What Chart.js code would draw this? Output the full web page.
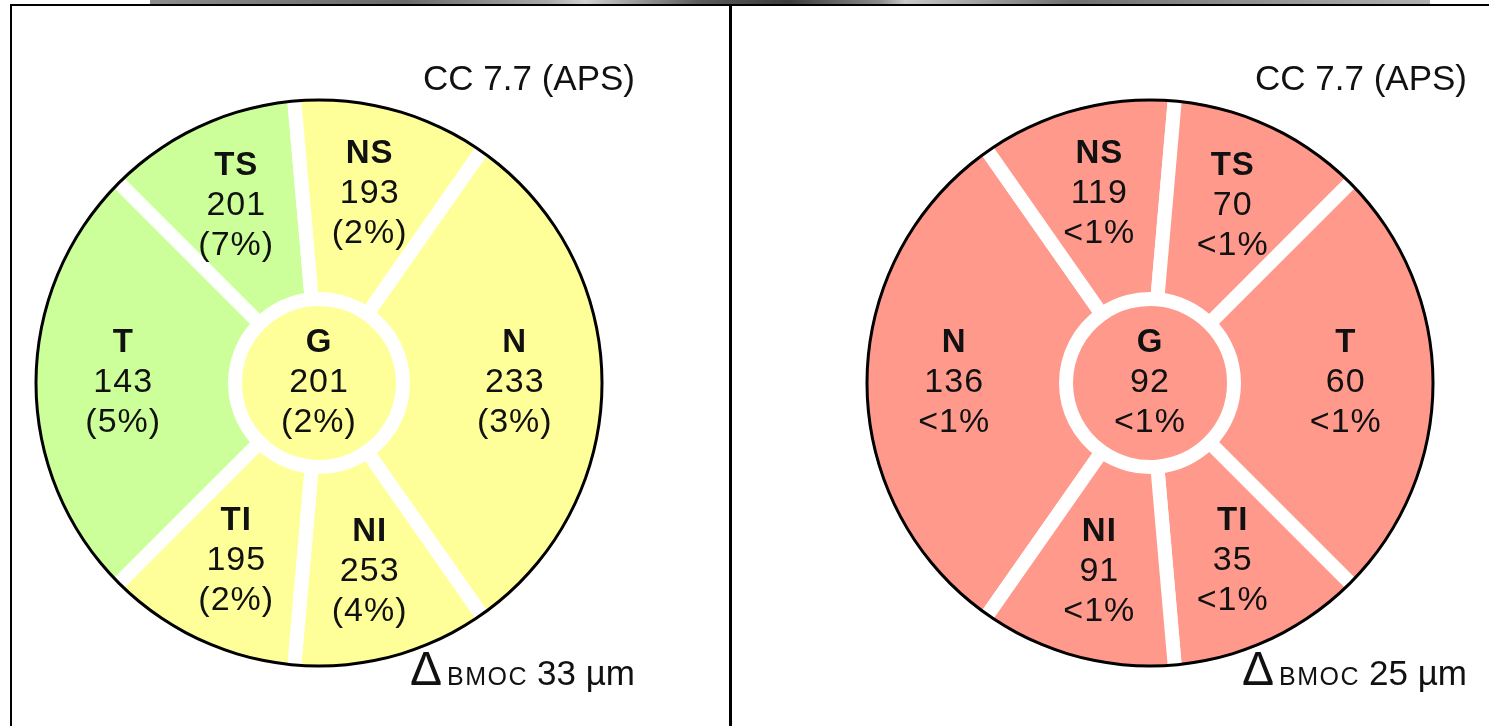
<!DOCTYPE html>
<html>
<head>
<meta charset="utf-8">
<script src="https://cdn.jsdelivr.net/npm/chart.js@4.4.1/dist/chart.umd.min.js"></script>
<style>
html,body{margin:0;padding:0;background:#fff;}
body{width:1489px;height:726px;position:relative;overflow:hidden;font-family:"Liberation Sans",Arial,Helvetica,sans-serif;color:#111;}
.strip{position:absolute;left:150px;top:0;width:1280px;height:4px;
  background:linear-gradient(90deg,#8c8c8c,#6a6a6a 20%,#a8a8a8 31%,#d0d0d0 34%,#5a5a5a 43%,#3c3c3c 50%,#8a8a8a 57%,#c8c8c8 59%,#707070 72%,#9a9a9a 90%,#b0b0b0);}
.frame{position:absolute;left:10px;top:4px;width:1500px;height:760px;border-left:2px solid #000;border-top:2px solid #000;}
.divider{position:absolute;left:729px;top:4px;width:3px;height:730px;background:#000;}
.wrap{position:absolute;width:620px;height:620px;}
.wrap canvas{position:absolute;left:0;top:0;}
.line{position:absolute;display:flex;justify-content:flex-end;align-items:baseline;white-space:nowrap;}
.line span{line-height:1;}
.cc{font-size:35px;}
.tri{font-size:48px;margin-right:5px;font-weight:normal;}
.sc{font-size:25px;letter-spacing:1.5px;}
.um{font-size:35px;margin-left:9px;}
</style>
</head>
<body>
<div class="strip"></div>
<div class="frame"></div>
<div class="divider"></div>

<div class="wrap" style="left:9px;top:73px;">
  <canvas id="odChart" width="620" height="620"></canvas>
  <canvas id="odRing" width="620" height="620"></canvas>
</div>
<div class="wrap" style="left:840px;top:73px;">
  <canvas id="osChart" width="620" height="620"></canvas>
  <canvas id="osRing" width="620" height="620"></canvas>
</div>

<div class="line" style="right:854px;top:60px;"><span class="cc" id="odCC"></span></div>
<div class="line" style="right:22px;top:60px;"><span class="cc" id="osCC"></span></div>
<div class="line" style="right:854px;top:645px;"><span class="tri">Δ</span><span class="sc">BMOC</span><span class="um" id="odBmoc"></span></div>
<div class="line" style="right:22px;top:645px;"><span class="tri">Δ</span><span class="sc">BMOC</span><span class="um" id="osBmoc"></span></div>

<script>
// ===== DATA: left eye =====
const odNames = ["TS", "NS", "N", "NI", "TI", "T"];
const odSpans = [40, 40, 110, 40, 40, 90];          // sector sizes in degrees, clockwise
const odValues = [201, 193, 233, 253, 195, 143];
const odPct = ["(7%)", "(2%)", "(3%)", "(4%)", "(2%)", "(5%)"];
const odColors = ["#ccff99", "#ffff99", "#ffff99", "#ffff99", "#ffff99", "#ccff99"];
const odG = 201;
const odGPct = "(2%)";
const odGColor = "#ffff99";
const odRotation = -45;
const odQuality = "CC 7.7 (APS)";
const odBmoc = "33 µm";

// ===== DATA: right eye =====
const osNames = ["N", "NS", "TS", "T", "TI", "NI"];
const osSpans = [110, 40, 40, 90, 40, 40];
const osValues = [136, 119, 70, 60, 35, 91];
const osPct = ["<1%", "<1%", "<1%", "<1%", "<1%", "<1%"];
const osColors = ["#ff998c", "#ff998c", "#ff998c", "#ff998c", "#ff998c", "#ff998c"];
const osG = 92;
const osGPct = "<1%";
const osGColor = "#ff998c";
const osRotation = -145;
const osQuality = "CC 7.7 (APS)";
const osBmoc = "25 µm";

Chart.defaults.font.family = "'Liberation Sans', Arial, Helvetica, sans-serif";

// ================= LABELS =================
function drawBlock(ctx, x, y, name, val, pct){
    ctx.letterSpacing = "1px";
    ctx.font = "bold 33px 'Liberation Sans', Arial, sans-serif";
    ctx.fillText(name, x, y - 40);
    ctx.font = "34px 'Liberation Sans', Arial, sans-serif";
    ctx.fillText(String(val), x, y);
    ctx.fillText(pct, x, y + 40);
}

const sectorLabels = {
    id: "sectorLabels",
    afterDatasetsDraw(chart, args, opts){
        const ctx = chart.ctx;
        ctx.save();
        ctx.fillStyle = "#111";
        ctx.textAlign = "center";
        ctx.textBaseline = "middle";
        chart.getDatasetMeta(0).data.forEach((arc, i)=>{
            const p = arc.getProps(["x","y","startAngle","endAngle","innerRadius","outerRadius"]);
            const mid = (p.startAngle + p.endAngle) / 2;
            const r = p.innerRadius + (p.outerRadius - p.innerRadius) * 0.54;
            drawBlock(ctx, p.x + Math.cos(mid) * r, p.y + Math.sin(mid) * r, opts.names[i], opts.values[i], opts.pcts[i]);
        });
        const g = chart.getDatasetMeta(1).data[0];
        drawBlock(ctx, g.x, g.y, "G", opts.gValue, opts.gPct);
        ctx.restore();
    }
};

// ================= CHARTS =================
function makeEye(id, names, spans, rotation, values, pcts, colors, gValue, gPct, gColor){
    new Chart(document.getElementById(id + "Chart"), {
        type: "doughnut",
        data: {
            labels: names,
            datasets: [
                {data: spans, backgroundColor: colors, borderColor: "#fff", borderWidth: 14, weight: 207},
                {data: [360], backgroundColor: [gColor], borderWidth: 0, weight: 84}
            ]
        },
        options: {
            responsive: false, animation: false, events: [], devicePixelRatio: 1,
            rotation: rotation, cutout: "0%", radius: 291,
            layout: {padding: 0},
            plugins: {
                legend: {display: false}, tooltip: {enabled: false},
                sectorLabels: {names, values, pcts, gValue, gPct}
            }
        },
        plugins: [sectorLabels]
    });

    // black outline ring
    new Chart(document.getElementById(id + "Ring"), {
        type: "doughnut",
        data: {datasets: [{data: [1], backgroundColor: ["#000"], borderWidth: 0}]},
        options: {
            responsive: false, animation: false, events: [], devicePixelRatio: 1,
            radius: 284.5, cutout: "98.95%",
            plugins: {legend: {display: false}, tooltip: {enabled: false}}
        }
    });
}

makeEye("od", odNames, odSpans, odRotation, odValues, odPct, odColors, odG, odGPct, odGColor);
makeEye("os", osNames, osSpans, osRotation, osValues, osPct, osColors, osG, osGPct, osGColor);

document.getElementById("odCC").textContent = odQuality;
document.getElementById("osCC").textContent = osQuality;
document.getElementById("odBmoc").textContent = odBmoc;
document.getElementById("osBmoc").textContent = osBmoc;
</script>
</body>
</html>
